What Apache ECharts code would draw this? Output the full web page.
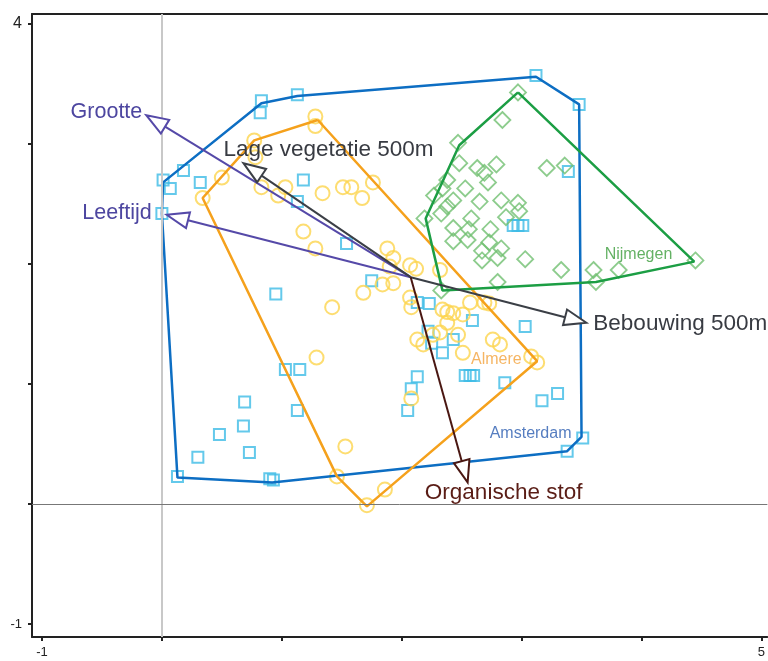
<!DOCTYPE html>
<html>
<head>
<meta charset="utf-8">
<script src="https://cdn.jsdelivr.net/npm/echarts@6/dist/echarts.min.js"></script>
<style>
  html, body { margin: 0; padding: 0; background: #fff; }
  #container { width: 768px; height: 661px; }
</style>
</head>
<body>
<div id="container"></div>
<script>
// tick values
const xTicks = [-1, 0, 1, 2, 3, 4, 5];
const xTickLabels = [-1, 5];
const yTicks = [-1, 0, 1, 2, 3, 4];
const yTickLabels = [-1, 4];

// site scores
const amsterdam = [
  [3.12, 3.57], [3.48, 3.33], [0.83, 3.36], [0.82, 3.26], [1.13, 3.41], [3.39, 2.77],
  [2.93, 2.32], [2.97, 2.32], [3.01, 2.32], [0.01, 2.70], [0.07, 2.63], [0.18, 2.78],
  [0.32, 2.68], [0.00, 2.42], [1.18, 2.70], [1.13, 2.52], [1.54, 2.17], [1.75, 1.86],
  [0.95, 1.75], [1.03, 1.12], [1.15, 1.12], [1.13, 0.78], [0.69, 0.85], [0.68, 0.65],
  [0.48, 0.58], [0.30, 0.39], [0.73, 0.43], [0.13, 0.23], [0.90, 0.21], [0.93, 0.20],
  [2.13, 1.68], [2.23, 1.67], [2.22, 1.44], [2.25, 1.34], [2.34, 1.26], [2.43, 1.37],
  [2.59, 1.53], [3.03, 1.48], [2.13, 1.06], [2.08, 0.96], [2.05, 0.78], [2.53, 1.07],
  [2.57, 1.07], [2.60, 1.07], [2.86, 1.01], [3.17, 0.86], [3.30, 0.92], [3.51, 0.55],
  [3.38, 0.44]
];
const almere = [
  [1.28, 3.23], [1.28, 3.15], [0.77, 3.03], [0.78, 2.89], [0.50, 2.72], [0.34, 2.55],
  [0.83, 2.64], [0.97, 2.57], [1.03, 2.64], [1.34, 2.59], [1.51, 2.64], [1.58, 2.64],
  [1.67, 2.55], [1.76, 2.68], [1.18, 2.27], [1.28, 2.13], [1.88, 2.13], [1.93, 2.05],
  [2.07, 1.99], [2.12, 1.96], [2.32, 1.95], [1.42, 1.64], [1.68, 1.76], [1.84, 1.83],
  [2.07, 1.72], [2.13, 1.37], [1.29, 1.22], [1.53, 0.48], [1.46, 0.23], [1.71, -0.01],
  [1.86, 0.12], [2.08, 0.88], [2.38, 1.60], [2.32, 1.43], [2.34, 1.62], [2.43, 1.59],
  [2.47, 1.41], [2.51, 1.26], [2.76, 1.37], [2.82, 1.33], [3.08, 1.23], [3.13, 1.18],
  [2.26, 1.41], [2.57, 1.68], [2.69, 1.68], [2.73, 1.67], [2.51, 1.58], [2.38, 1.51],
  [2.18, 1.33], [1.90, 1.98], [1.93, 1.84], [2.08, 1.64]
];
const nijmegen = [
  [2.97, 3.43], [2.84, 3.20], [2.47, 3.01], [2.48, 2.84], [2.63, 2.80], [2.79, 2.83],
  [2.69, 2.76], [2.72, 2.68], [2.38, 2.70], [2.34, 2.63], [2.43, 2.53], [2.38, 2.48],
  [2.33, 2.42], [2.19, 2.38], [2.65, 2.52], [2.83, 2.53], [2.97, 2.51], [2.98, 2.44],
  [2.87, 2.39], [2.58, 2.38], [2.43, 2.30], [2.56, 2.29], [2.74, 2.29], [2.43, 2.19],
  [2.55, 2.20], [2.73, 2.18], [2.83, 2.13], [2.67, 2.11], [2.80, 2.05], [2.67, 2.03],
  [3.03, 2.04], [3.21, 2.80], [3.36, 2.82], [3.33, 1.95], [3.60, 1.95], [3.81, 1.95],
  [4.45, 2.03], [3.62, 1.85], [2.80, 1.85], [2.33, 1.78], [2.27, 2.57], [2.53, 2.63]
];

// convex hulls per city
const amsterdamHull = [[0.01, 2.68], [0.83, 3.34], [1.13, 3.40], [3.12, 3.56], [3.48, 3.33],
  [3.50, 0.56], [3.38, 0.44], [0.92, 0.18], [0.13, 0.22], [0.00, 2.42]];
const almereHull = [[1.30, 3.20], [3.13, 1.19], [1.71, -0.02], [1.46, 0.23], [0.34, 2.55], [0.77, 3.03]];
const nijmegenHull = [[2.97, 3.43], [4.44, 2.02], [3.62, 1.85], [2.34, 1.78], [2.20, 2.38], [2.48, 2.99]];

// environmental vectors
const arrowOrigin = [2.075, 1.89];
const arrowNames = ['Grootte', 'Leeftijd', 'Lage vegetatie 500m', 'Bebouwing 500m', 'Organische stof'];
const arrowTips = [[-0.13, 3.24], [0.04, 2.41], [0.68, 2.84], [3.54, 1.51], [2.55, 0.18]];

const groupNames = ['Nijmegen', 'Almere', 'Amsterdam'];
const groupLabelAt = [[3.975, 2.075], [2.79, 1.2], [3.075, 0.583]];

// styles
const arrowStyle = [
  { color: '#5549a8', text: '#4d46a0', dx: -4, dy: -3, align: 'right', size: 21.5 },
  { color: '#5549a8', text: '#4d46a0', dx: -15, dy: -2, align: 'right', size: 21.5 },
  { color: '#3b3f46', text: '#383b42', dx: -20, dy: -13, align: 'left', size: 22.5 },
  { color: '#3b3f46', text: '#383b42', dx: 7, dy: 1, align: 'left', size: 22.5 },
  { color: '#4a1712', text: '#5a1d16', dx: 36, dy: 10, align: 'center', size: 22.5 }
];
const groupColors = ['#3d9e3d', '#f3a23c', '#2a5db0'];

function closed(pts) { return pts.concat([pts[0]]); }

var dom = document.getElementById('container');
var myChart = echarts.init(dom);

var axisCommon = {
  type: 'value',
  splitLine: { show: false },
  axisLine: { show: true, onZero: false, lineStyle: { color: '#222', width: 2 } }
};

var option = {
  animation: false,
  backgroundColor: '#fff',
  grid: { left: 32, top: 14, right: 0, bottom: 24, containLabel: false },
  xAxis: [
    Object.assign({}, axisCommon, {
      min: -1.0833, max: 5.05, position: 'bottom',
      axisTick: { show: true, customValues: xTicks, length: 4, lineStyle: { color: '#222', width: 2 } },
      axisLabel: { customValues: xTickLabels, margin: 9, fontSize: 13, color: '#222', fontFamily: 'Liberation Sans' }
    }),
    Object.assign({}, axisCommon, {
      min: -1.0833, max: 5.05, position: 'top',
      axisTick: { show: false }, axisLabel: { show: false }
    })
  ],
  yAxis: Object.assign({}, axisCommon, {
    min: -1.1083, max: 4.0833,
    axisTick: { show: true, customValues: yTicks, length: 4, lineStyle: { color: '#222', width: 2 } },
    axisLabel: {
      customValues: yTickLabels, margin: 10, color: '#222', fontFamily: 'Liberation Sans',
      formatter: function (v) { return v === 4 ? '{big|4}' : '{small|' + v + '}'; },
      rich: { big: { fontSize: 16, color: '#222' }, small: { fontSize: 13, color: '#222' } }
    }
  }),
  series: [
    {
      type: 'scatter', name: 'Amsterdam', data: amsterdam, symbol: 'rect', symbolSize: 11, z: 2,
      itemStyle: { color: 'rgba(255,255,255,0)', borderColor: '#3dbbe6', borderWidth: 2 },
      markLine: {
        silent: true, symbol: 'none', label: { show: false }, animation: false,
        data: [
          { xAxis: 0, lineStyle: { color: '#c8c8c8', width: 2, type: 'solid' } },
          { yAxis: 0, lineStyle: { color: '#777', width: 1, type: 'solid' } }
        ]
      }
    },
    {
      type: 'scatter', name: 'Almere', data: almere, symbol: 'circle', symbolSize: 14, z: 2,
      itemStyle: { color: 'rgba(255,255,255,0)', borderColor: '#fcd44e', borderWidth: 2 }
    },
    {
      type: 'scatter', name: 'Nijmegen', data: nijmegen, symbol: 'diamond', symbolSize: 16, z: 2,
      itemStyle: { color: 'rgba(255,255,255,0)', borderColor: '#70bf70', borderWidth: 1.8 }
    },
    {
      type: 'line', data: closed(amsterdamHull), showSymbol: false, z: 3,
      lineStyle: { color: '#0d6ec3', width: 2.5 }
    },
    {
      type: 'line', data: closed(almereHull), showSymbol: false, z: 3,
      lineStyle: { color: '#f5a11c', width: 2.5 }
    },
    {
      type: 'line', data: closed(nijmegenHull), showSymbol: false, z: 3,
      lineStyle: { color: '#1c9e44', width: 2.5 }
    },
    {
      type: 'scatter', z: 4, symbolSize: 0,
      data: groupNames.map(function (n, i) {
        return { name: n, value: groupLabelAt[i], label: { color: groupColors[i] } };
      }),
      label: { show: true, position: 'inside', formatter: '{b}', fontSize: 16, fontFamily: 'Liberation Sans' }
    },
    {
      type: 'custom', z: 5, clip: false,
      data: arrowTips.map(function (t, i) { return [arrowOrigin[0], arrowOrigin[1], t[0], t[1], i]; }),
      encode: { x: [0, 2], y: [1, 3] },
      renderItem: function (params, api) {
        var i = api.value(4);
        var p0 = api.coord([api.value(0), api.value(1)]);
        var p1 = api.coord([api.value(2), api.value(3)]);
        var dx = p1[0] - p0[0], dy = p1[1] - p0[1];
        var len = Math.sqrt(dx * dx + dy * dy);
        var ux = dx / len, uy = dy / len, nx = -uy, ny = ux;
        var L = 22, W = 8;
        var bx = p1[0] - ux * L, by = p1[1] - uy * L;
        var st = arrowStyle[i];
        return {
          type: 'group',
          children: [
            { type: 'line', shape: { x1: p0[0], y1: p0[1], x2: bx, y2: by },
              style: { stroke: st.color, lineWidth: 2 } },
            { type: 'polygon',
              shape: { points: [[p1[0], p1[1]], [bx + nx * W, by + ny * W], [bx - nx * W, by - ny * W]] },
              style: { fill: '#fff', stroke: st.color, lineWidth: 2 } },
            { type: 'text', x: p1[0] + st.dx, y: p1[1] + st.dy,
              style: { text: arrowNames[i], fill: st.text, font: st.size + 'px "Liberation Sans"',
                       align: st.align, verticalAlign: 'middle' } }
          ]
        };
      }
    }
  ]
};

if (option && typeof option === 'object') {
  myChart.setOption(option);
}
window.addEventListener('resize', myChart.resize);
</script>
</body>
</html>
